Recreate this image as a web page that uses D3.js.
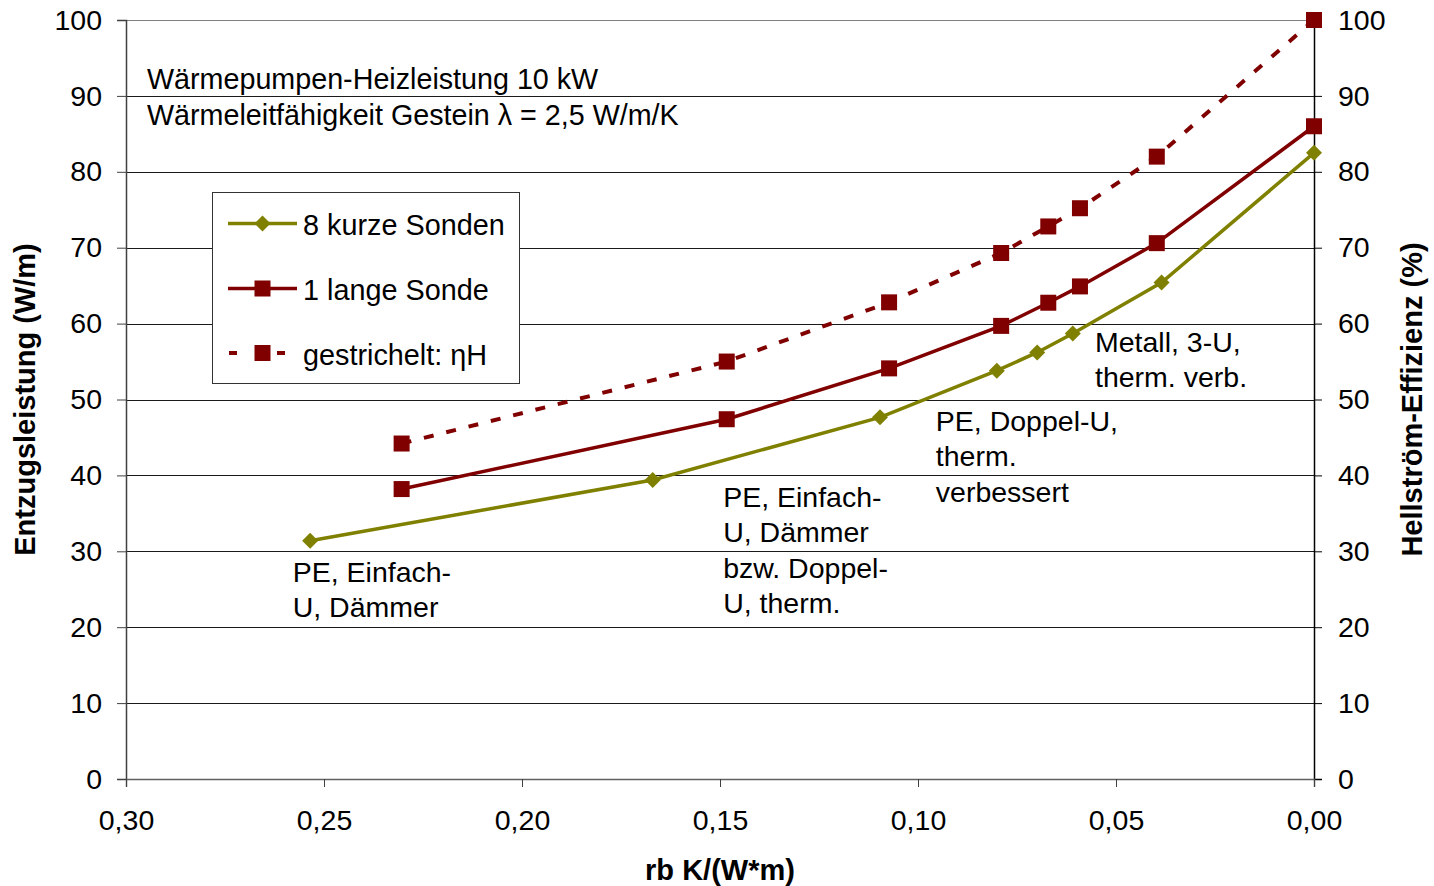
<!DOCTYPE html>
<html>
<head>
<meta charset="utf-8">
<script src="https://cdn.jsdelivr.net/npm/d3@7"></script>
<style>
  html, body { margin: 0; padding: 0; background: #fff; }
  svg { display: block; font-family: "Liberation Sans", Arial, sans-serif; }
</style>
</head>
<body>
<svg id="chart" width="1434" height="886"></svg>
<script>
// ---- data ----
const kurzX = [0.2535, 0.167, 0.1096, 0.0801, 0.0699, 0.0609, 0.0385, 0.0];
const kurzY = [31.4, 39.4, 47.65, 53.8, 56.2, 58.7, 65.4, 82.5];
const langX = [0.2304, 0.1483, 0.1073, 0.0790, 0.0671, 0.0591, 0.0397, 0.0];
const langY = [38.2, 47.4, 54.1, 59.7, 62.75, 64.9, 70.6, 86.0];
const etaY  = [44.2, 55.0, 62.8, 69.3, 72.8, 75.2, 82.0, 100];
const xTicks = [0.30, 0.25, 0.20, 0.15, 0.10, 0.05, 0.00];
const yTicks = [0, 10, 20, 30, 40, 50, 60, 70, 80, 90, 100];
const seriesNames = ["8 kurze Sonden", "1 lange Sonde", "gestrichelt: ηH"];
const headerLines = ["Wärmepumpen-Heizleistung 10 kW", "Wärmeleitfähigkeit Gestein λ = 2,5 W/m/K"];
const annotations = [
  {x: 0.2579, lines: ["PE, Einfach-", "U, Dämmer"]},
  {x: 0.1492, lines: ["PE, Einfach-", "U, Dämmer", "bzw. Doppel-", "U, therm."]},
  {x: 0.0955, lines: ["PE, Doppel-U,", "therm.", "verbessert"]},
  {x: 0.0553, lines: ["Metall, 3-U,", "therm. verb."]}
];
const xTitle = "rb K/(W*m)";
const yTitleLeft = "Entzugsleistung (W/m)";
const yTitleRight = "Hellström-Effizienz (%)";

const OLIVE = "#808000", RED = "#800000";

const svg = d3.select("#chart");
const L = 126, R = 1314, T = 20, B = 779;
const x = d3.scaleLinear().domain([0.30, 0]).range([L, R]);
const y = d3.scaleLinear().domain([0, 100]).range([B, T]);
const y2 = d3.scaleLinear().domain([0, 100]).range([B, T]);

const loc = d3.formatLocale({decimal: ",", thousands: ".", grouping: [3], currency: ["", "€"]});
const fx = loc.format(".2f");

// gridlines
svg.append("g").selectAll("line").data(yTicks.filter(d => d > 0)).join("line")
  .attr("x1", L).attr("x2", R)
  .attr("y1", d => Math.round(y(d)) + 0.5).attr("y2", d => Math.round(y(d)) + 0.5)
  .attr("stroke", d => d === 100 ? "#808080" : "#1a1a1a").attr("stroke-width", 1);

const tickFont = 28.5;
// left axis
const gl = svg.append("g").attr("transform", `translate(${L},0)`)
  .call(d3.axisLeft(y).tickValues(yTicks).tickSize(9).tickPadding(15).tickFormat(d3.format("d")));
gl.select(".domain").attr("stroke", "#404040").attr("stroke-width", 1.5);
gl.selectAll(".tick line").attr("stroke", "#404040");
gl.selectAll("text").attr("font-size", tickFont).attr("font-family", "Liberation Sans, Arial, sans-serif").attr("fill", "#000");

// right axis
const gr = svg.append("g").attr("transform", `translate(${R},0)`)
  .call(d3.axisRight(y2).tickValues(yTicks).tickSize(8).tickPadding(16).tickFormat(d3.format("d")));
gr.select(".domain").attr("stroke", "#000").attr("stroke-width", 1.5);
gr.selectAll(".tick line").attr("stroke", "#000");
gr.selectAll("text").attr("font-size", tickFont).attr("font-family", "Liberation Sans, Arial, sans-serif").attr("fill", "#000");

// bottom axis
const gb = svg.append("g").attr("transform", `translate(0,${B})`)
  .call(d3.axisBottom(x).tickValues(xTicks).tickSize(8).tickFormat(fx));
gb.select(".domain").attr("stroke", "#606060").attr("stroke-width", 1.5);
gb.selectAll(".tick line").attr("stroke", "#404040");
gb.selectAll("text").attr("font-size", tickFont).attr("font-family", "Liberation Sans, Arial, sans-serif")
  .attr("fill", "#000").attr("y", 51).attr("dy", 0);

// lines
const kurz = kurzX.map((v, i) => [v, kurzY[i]]);
const lang = langX.map((v, i) => [v, langY[i]]);
const eta = langX.map((v, i) => [v, etaY[i]]);
const line1 = d3.line().x(d => x(d[0])).y(d => y(d[1]));
const line2 = d3.line().x(d => x(d[0])).y(d => y2(d[1]));

svg.append("path").datum(eta).attr("d", line2).attr("fill", "none")
  .attr("stroke", RED).attr("stroke-width", 4).attr("stroke-dasharray", "10,13");
svg.append("path").datum(lang).attr("d", line1).attr("fill", "none")
  .attr("stroke", RED).attr("stroke-width", 3.5);
svg.append("path").datum(kurz).attr("d", line1).attr("fill", "none")
  .attr("stroke", OLIVE).attr("stroke-width", 3.5);

// markers
const SQ = 16;
svg.append("g").selectAll("rect").data(eta).join("rect")
  .attr("x", d => x(d[0]) - SQ / 2).attr("y", d => y2(d[1]) - SQ / 2)
  .attr("width", SQ).attr("height", SQ).attr("fill", RED);
svg.append("g").selectAll("rect").data(lang).join("rect")
  .attr("x", d => x(d[0]) - SQ / 2).attr("y", d => y(d[1]) - SQ / 2)
  .attr("width", SQ).attr("height", SQ).attr("fill", RED);
const D = 8;
const diamond = `M0,${-D}L${D},0L0,${D}L${-D},0Z`;
svg.append("g").selectAll("path").data(kurz).join("path")
  .attr("d", diamond).attr("transform", d => `translate(${x(d[0])},${y(d[1])})`)
  .attr("fill", OLIVE);

// legend
const lg = svg.append("g");
lg.append("rect").attr("x", 212.5).attr("y", 192.5).attr("width", 307).attr("height", 191)
  .attr("fill", "#fff").attr("stroke", "#333").attr("stroke-width", 1);
const rowsY = [223.5, 288.5, 353];
const textFont = 28.5;
// row 1
lg.append("line").attr("x1", 228).attr("x2", 297).attr("y1", rowsY[0]).attr("y2", rowsY[0])
  .attr("stroke", OLIVE).attr("stroke-width", 3.5);
lg.append("path").attr("d", diamond).attr("transform", `translate(262.5,${rowsY[0]})`).attr("fill", OLIVE);
// row 2
lg.append("line").attr("x1", 228).attr("x2", 297).attr("y1", rowsY[1]).attr("y2", rowsY[1])
  .attr("stroke", RED).attr("stroke-width", 3.5);
lg.append("rect").attr("x", 262.5 - SQ / 2).attr("y", rowsY[1] - SQ / 2).attr("width", SQ).attr("height", SQ).attr("fill", RED);
// row 3
lg.append("line").attr("x1", 229).attr("x2", 297).attr("y1", rowsY[2]).attr("y2", rowsY[2])
  .attr("stroke", RED).attr("stroke-width", 4).attr("stroke-dasharray", "8,40");
lg.append("rect").attr("x", 262.5 - SQ / 2).attr("y", rowsY[2] - SQ / 2).attr("width", SQ).attr("height", SQ).attr("fill", RED);
lg.selectAll("text.leg").data(seriesNames).join("text").attr("class", "leg")
  .attr("x", 303).attr("y", (d, i) => rowsY[i] + 11.5)
  .attr("font-size", 28.8).attr("fill", "#000").text(d => d);

// header text
svg.append("g").selectAll("text").data(headerLines).join("text")
  .attr("x", 147).attr("y", (d, i) => 89 + i * 36)
  .attr("font-size", 28.7).attr("fill", "#000").text(d => d);

// annotations
const baseY = [582, 507, 431, 352];
annotations.forEach((a, k) => {
  const t = svg.append("text").attr("font-size", textFont).attr("fill", "#000");
  a.lines.forEach((ln, i) => {
    t.append("tspan").attr("x", x(a.x)).attr("y", baseY[k] + i * 35.3).text(ln);
  });
});

// axis titles
svg.append("text").attr("x", (L + R) / 2).attr("y", 880).attr("text-anchor", "middle")
  .attr("font-size", 29).attr("font-weight", "bold").attr("fill", "#000").text(xTitle);
svg.append("text").attr("transform", `translate(35,${(T + B) / 2}) rotate(-90)`)
  .attr("text-anchor", "middle").attr("font-size", 29).attr("font-weight", "bold").attr("fill", "#000").text(yTitleLeft);
svg.append("text").attr("transform", `translate(1422,${(T + B) / 2}) rotate(-90)`)
  .attr("text-anchor", "middle").attr("font-size", 29).attr("font-weight", "bold").attr("fill", "#000").text(yTitleRight);
</script>
</body>
</html>
